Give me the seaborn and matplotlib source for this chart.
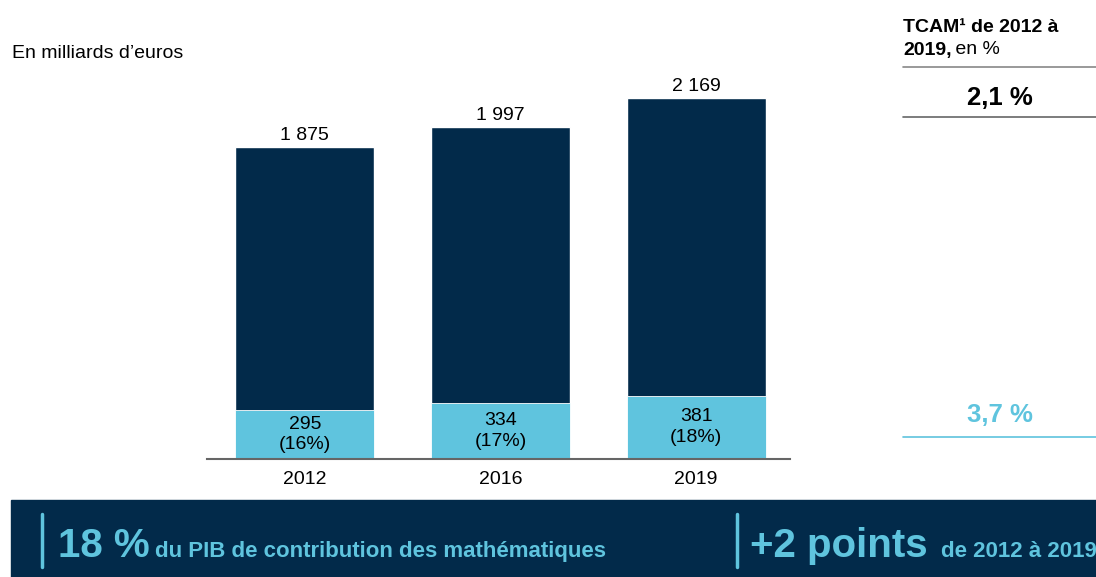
import matplotlib
matplotlib.use("Agg")
import matplotlib.pyplot as plt
import seaborn as sns
from matplotlib.patches import Rectangle
from matplotlib.lines import Line2D

years = ["2012", "2016", "2019"]
pib_total = [1875, 1997, 2169]
pib_maths = [295, 334, 381]
tcam_total = "2,1 %"
tcam_maths = "3,7 %"

DARK = "#022A4A"
LIGHT = "#5FC4DE"
W, H = 1096, 577
FS = 14

sns.set_style("white")
plt.rcParams["font.family"] = ["Liberation Sans", "DejaVu Sans"]
plt.rcParams["text.color"] = "black"
plt.rcParams["xtick.color"] = "black"

fig = plt.figure(figsize=(W / 100, H / 100), dpi=100)


def px(x, y):
    return x / W, 1 - y / H


ax = fig.add_axes([207 / W, 1 - 459 / H, 583 / W, 399.4 / H])
sns.barplot(x=years, y=pib_total, color=DARK, width=0.71, saturation=1, ax=ax)
sns.barplot(x=years, y=pib_maths, color=LIGHT, width=0.71, saturation=1, ax=ax,
            edgecolor="white", linewidth=0.6)
ax.set_xlim(-0.5, 2.48)
ax.set_ylim(0, 2400)

tot_labels = [f"{v:,}".replace(",", " ") for v in pib_total]
ax.bar_label(ax.containers[0], labels=tot_labels, padding=2, fontsize=FS, color="black")
inner = [f"{m}\n({round(100 * m / t)}%)" for m, t in zip(pib_maths, pib_total)]
ax.bar_label(ax.containers[1], labels=inner, label_type="center", fontsize=FS,
             linespacing=1.3, color="black")

sns.despine(ax=ax, left=True)
ax.spines["bottom"].set_color("#666666")
ax.spines["bottom"].set_linewidth(1.5)
ax.set_yticks([])
ax.set_xlabel("")
ax.set_ylabel("")
ax.tick_params(axis="x", length=0, labelsize=FS, pad=9, labelcolor="black")

fig.text(*px(12, 54), "En milliards d\u2019euros", fontsize=FS, va="center")

# right panel
fig.text(*px(903, 28), "TCAM\u00b9 de 2012 \u00e0", fontsize=FS, weight="bold", va="center")
fig.text(*px(903, 50), "2019,", fontsize=FS, weight="bold", va="center")
fig.text(*px(950, 50), " en %", fontsize=FS, va="center")
fig.add_artist(Line2D([903 / W, 1], [1 - 67 / H] * 2, color="#888888", lw=1.2))
fig.text(*px(1000, 98), tcam_total, fontsize=18.5, weight="bold", ha="center", va="center")
fig.add_artist(Line2D([903 / W, 1], [1 - 117 / H] * 2, color="#666666", lw=1.2))
fig.text(*px(1000, 415), tcam_maths, fontsize=18.5, weight="bold", ha="center",
         va="center", color=LIGHT)
fig.add_artist(Line2D([903 / W, 1], [1 - 437 / H] * 2, color=LIGHT, lw=1.2))

# bottom banner
fig.add_artist(Rectangle(px(11, 577), 1, 77 / H, transform=fig.transFigure,
                         color=DARK, zorder=0))
fig.add_artist(Line2D([42 / W] * 2, [1 - 514 / H, 1 - 567 / H], color=LIGHT, lw=2.5))
fig.text(*px(58, 557), "18 %", fontsize=29, weight="bold", color=LIGHT, va="baseline")
fig.text(*px(155, 557), "du PIB de contribution des math\u00e9matiques", fontsize=16,
         weight="bold", color=LIGHT, va="baseline")
fig.add_artist(Line2D([737 / W] * 2, [1 - 514 / H, 1 - 567 / H], color=LIGHT, lw=2.5))
fig.text(*px(750, 557), "+2 points", fontsize=29, weight="bold", color=LIGHT, va="baseline")
fig.text(*px(941, 557), "de 2012 \u00e0 2019", fontsize=16, weight="bold", color=LIGHT,
         va="baseline")

fig.savefig("out.png", dpi=100)
